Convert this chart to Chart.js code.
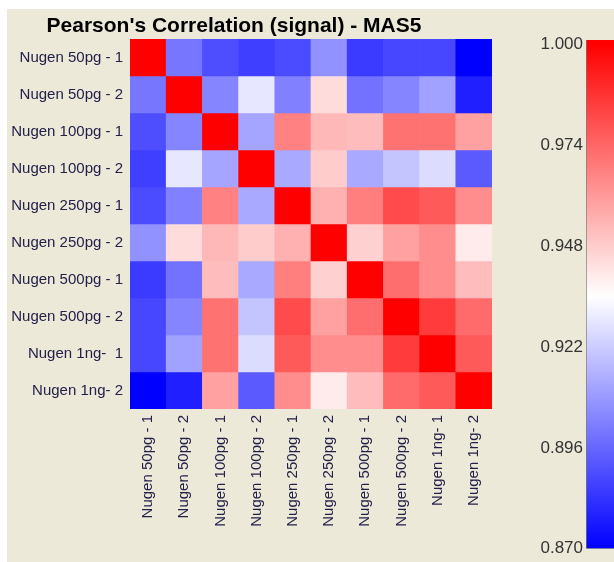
<!DOCTYPE html>
<html>
<head>
<meta charset="utf-8">
<script src="https://cdn.jsdelivr.net/npm/chart.js@4/dist/chart.umd.min.js"></script>
<style>
  html, body { margin: 0; padding: 0; background: #fff; }
  #page { position: absolute; left: 7px; top: 9px; width: 607px; height: 553px; background: #ece9d8; }
  #heat { position: absolute; left: 0; top: 0; }
  #scale { position: absolute; left: 520px; top: 0; }
</style>
</head>
<body>
<div id="page"></div>
<canvas id="heat" width="520" height="562"></canvas>
<canvas id="scale" width="94" height="562"></canvas>
<script>
const titleText = "Pearson's Correlation (signal) - MAS5";

const rowLabels = [
  "Nugen 50pg - 1", "Nugen 50pg - 2", "Nugen 100pg - 1", "Nugen 100pg - 2",
  "Nugen 250pg - 1", "Nugen 250pg - 2", "Nugen 500pg - 1", "Nugen 500pg - 2",
  "Nugen 1ng-  1", "Nugen 1ng- 2"
];
const colLabels = [
  "Nugen 50pg - 1", "Nugen 50pg - 2", "Nugen 100pg - 1", "Nugen 100pg - 2",
  "Nugen 250pg - 1", "Nugen 250pg - 2", "Nugen 500pg - 1", "Nugen 500pg - 2",
  "Nugen 1ng- 1", "Nugen 1ng- 2"
];

// correlation values, one row per sample
const r50pg1  = [1.000, 0.900, 0.890, 0.886, 0.889, 0.907, 0.885, 0.888, 0.888, 0.870];
const r50pg2  = [0.900, 1.000, 0.904, 0.929, 0.903, 0.944, 0.899, 0.904, 0.911, 0.878];
const r100pg1 = [0.890, 0.904, 1.000, 0.912, 0.967, 0.953, 0.952, 0.971, 0.971, 0.959];
const r100pg2 = [0.886, 0.929, 0.912, 1.000, 0.913, 0.948, 0.913, 0.920, 0.926, 0.893];
const r250pg1 = [0.889, 0.903, 0.967, 0.913, 1.000, 0.955, 0.968, 0.981, 0.977, 0.964];
const r250pg2 = [0.907, 0.944, 0.953, 0.948, 0.955, 1.000, 0.947, 0.959, 0.964, 0.940];
const r500pg1 = [0.885, 0.899, 0.952, 0.913, 0.968, 0.947, 1.000, 0.972, 0.964, 0.952];
const r500pg2 = [0.888, 0.904, 0.971, 0.920, 0.981, 0.959, 0.972, 1.000, 0.985, 0.973];
const r1ng1   = [0.888, 0.911, 0.971, 0.926, 0.977, 0.964, 0.964, 0.985, 1.000, 0.977];
const r1ng2   = [0.870, 0.878, 0.959, 0.893, 0.964, 0.940, 0.952, 0.973, 0.977, 1.000];
const rows = [r50pg1, r50pg2, r100pg1, r100pg2, r250pg1, r250pg2, r500pg1, r500pg2, r1ng1, r1ng2];

const scaleTicks = [0.870, 0.896, 0.922, 0.948, 0.974, 1.000];
const scaleMin = 0.870;
const scaleMid = 0.935;
const scaleMax = 1.000;

const fontFamily = '"Liberation Sans", Arial, sans-serif';
const labelColor = '#24204a';

// blue -> white -> red
function corrColor(v) {
  if (v <= scaleMid) {
    const t = Math.max(0, (v - scaleMin) / (scaleMid - scaleMin));
    const c = Math.round(255 * t);
    return `rgb(${c},${c},255)`;
  }
  const s = Math.min(1, (v - scaleMid) / (scaleMax - scaleMid));
  const c = Math.round(255 * (1 - s));
  return `rgb(255,${c},${c})`;
}

const titlePlugin = {
  id: 'heatTitle',
  afterDraw(chart) {
    const ctx = chart.ctx;
    ctx.save();
    ctx.font = `bold 21px ${fontFamily}`;
    ctx.fillStyle = '#000';
    ctx.textAlign = 'center';
    ctx.textBaseline = 'alphabetic';
    ctx.fillText(titleText, 234, 32);
    ctx.restore();
  }
};

new Chart(document.getElementById('heat'), {
  type: 'bar',
  data: {
    labels: colLabels,
    datasets: rows.map((row, i) => ({
      label: rowLabels[i],
      data: row.map(() => 1),
      backgroundColor: row.map(corrColor),
      borderWidth: 0,
      barPercentage: 1,
      categoryPercentage: 1,
      yAxisID: 'y'
    }))
  },
  options: {
    responsive: false,
    animation: false,
    layout: { padding: { top: 39, right: 28, left: 0, bottom: 0 } },
    plugins: {
      legend: { display: false },
      tooltip: { enabled: false }
    },
    scales: {
      x: {
        stacked: true,
        grid: { display: false, drawTicks: false },
        border: { display: false },
        ticks: {
          autoSkip: false,
          minRotation: 90,
          maxRotation: 90,
          padding: 6,
          color: labelColor,
          font: { size: 15, family: fontFamily }
        },
        afterFit: s => { s.height = 153; }
      },
      y: {
        stacked: true,
        display: false,
        min: 0,
        max: 10,
        reverse: true
      },
      yl: {
        type: 'category',
        labels: rowLabels,
        position: 'left',
        offset: true,
        grid: { display: false, drawTicks: false },
        border: { display: false },
        ticks: {
          autoSkip: false,
          padding: 7,
          color: labelColor,
          font: { size: 15, family: fontFamily }
        },
        afterFit: s => { s.width = 130; }
      }
    }
  },
  plugins: [titlePlugin]
});

new Chart(document.getElementById('scale'), {
  type: 'bar',
  data: {
    labels: [''],
    datasets: [{
      data: [[scaleMin, 1.001]],
      backgroundColor: c => {
        const chart = c.chart;
        if (!chart.chartArea) return 'red';
        const y = chart.scales.y;
        const g = chart.ctx.createLinearGradient(0, y.getPixelForValue(scaleMin), 0, y.getPixelForValue(scaleMax));
        g.addColorStop(0, 'rgb(0,0,255)');
        g.addColorStop((scaleMid - scaleMin) / (scaleMax - scaleMin), '#ffffff');
        g.addColorStop(1, 'rgb(255,0,0)');
        return g;
      },
      borderColor: '#7a7a7a',
      borderWidth: { left: 1, bottom: 1, top: 0, right: 0 },
      borderSkipped: false,
      barPercentage: 1,
      categoryPercentage: 1
    }]
  },
  options: {
    responsive: false,
    animation: false,
    layout: { padding: { top: 40, bottom: 9, left: 0, right: 0 } },
    plugins: {
      legend: { display: false },
      tooltip: { enabled: false }
    },
    scales: {
      x: { display: false },
      y: {
        min: scaleMin,
        max: 1.001,
        afterBuildTicks: s => { s.ticks = scaleTicks.map(v => ({ value: v })); },
        afterFit: s => { s.width = 66; },
        grid: { display: false, drawTicks: false },
        border: { display: false },
        ticks: {
          padding: 3,
          color: '#333333',
          font: { size: 17, family: fontFamily },
          callback: v => Number(v).toFixed(3)
        }
      }
    }
  }
});
</script>
</body>
</html>
